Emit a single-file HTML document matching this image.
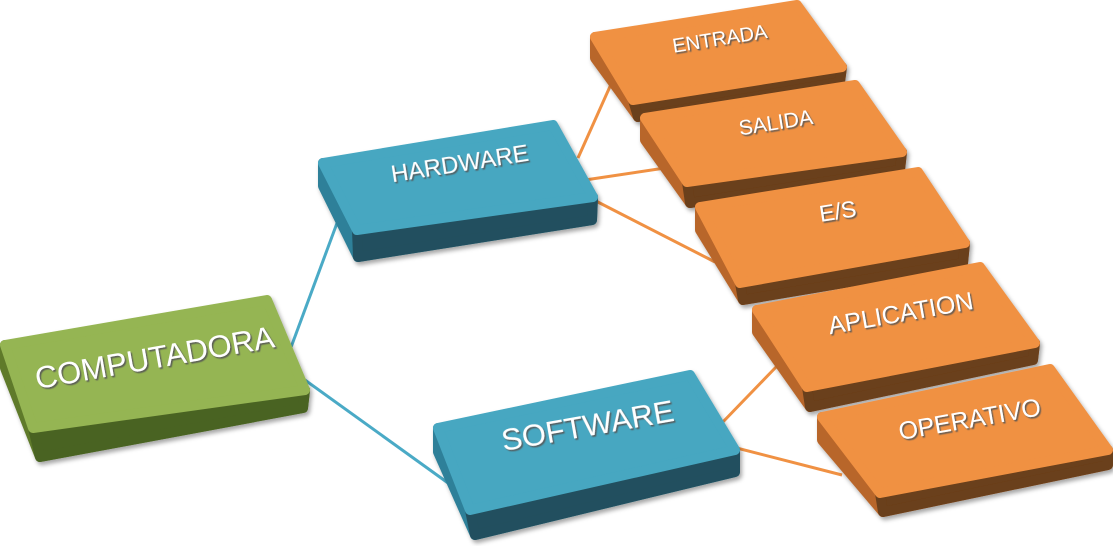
<!DOCTYPE html>
<html><head><meta charset="utf-8"><style>
html,body{margin:0;padding:0;background:#fff;}
svg{display:block}
text{font-family:"Liberation Sans",sans-serif;fill:#fff;text-anchor:middle;dominant-baseline:middle;}
</style></head><body>
<svg width="1113" height="546" viewBox="0 0 1113 546" xmlns="http://www.w3.org/2000/svg">
<defs>
<filter id="sh" x="-10%" y="-10%" width="130%" height="140%"><feDropShadow dx="2" dy="3" stdDeviation="2" flood-color="#000" flood-opacity="0.35"/></filter>
<filter id="ts"><feDropShadow dx="1.5" dy="1.5" stdDeviation="0.5" flood-color="#555" flood-opacity="0.9"/></filter>
</defs>
<g stroke="#4aaac6" stroke-width="3" fill="none">
<line x1="290" y1="350" x2="340" y2="215"/>
<line x1="298" y1="375" x2="455" y2="488"/>
</g>
<g stroke="#f09143" stroke-width="3" fill="none">
<line x1="578" y1="158" x2="612" y2="82"/>
<line x1="585" y1="180" x2="665" y2="168"/>
<line x1="590" y1="198" x2="715" y2="262"/>
<line x1="720" y1="425" x2="778" y2="365"/>
<line x1="725" y1="445" x2="842" y2="475"/>
</g>
<g stroke-linejoin="round" stroke-width="10">
<g filter="url(#sh)">
<polygon points="5,345 5,368 40,457 303,408 305,390 33,428" fill="#5e7a2c" stroke="#5e7a2c"/>
<polygon points="33,428 40,457 303,408 305,390" fill="#4a6324" stroke="#4a6324"/>
<polygon points="5,345 267,300 305,390 33,428" fill="#95b552" stroke="#95b552"/>
</g>
<g filter="url(#sh)">
<polygon points="323,163 323,186 358,257 592,220 593,197 357,230" fill="#2f8099" stroke="#2f8099"/>
<polygon points="357,230 358,257 592,220 593,197" fill="#22505e" stroke="#22505e"/>
<polygon points="323,163 553,125 593,197 357,230" fill="#46a7c1" stroke="#46a7c1"/>
</g>
<g filter="url(#sh)">
<polygon points="438,428 438,452 475,535 735,472 735,450 470,510" fill="#2f8099" stroke="#2f8099"/>
<polygon points="470,510 475,535 735,472 735,450" fill="#22505e" stroke="#22505e"/>
<polygon points="438,428 690,375 735,450 470,510" fill="#46a7c1" stroke="#46a7c1"/>
</g>
<g filter="url(#sh)">
<polygon points="595,37 595,58 638,117 840,82 842,67 633,100" fill="#b8662a" stroke="#b8662a"/>
<polygon points="633,100 638,117 840,82 842,67" fill="#6b3f1a" stroke="#6b3f1a"/>
<polygon points="595,37 797,5 842,67 633,100" fill="#f09143" stroke="#f09143"/>
</g>
<g filter="url(#sh)">
<polygon points="645,118 645,140 690,203 900,170 902,152 687,182" fill="#b8662a" stroke="#b8662a"/>
<polygon points="687,182 690,203 900,170 902,152" fill="#6b3f1a" stroke="#6b3f1a"/>
<polygon points="645,118 855,85 902,152 687,182" fill="#f09143" stroke="#f09143"/>
</g>
<g filter="url(#sh)">
<polygon points="700,207 700,230 743,300 963,263 965,243 740,283" fill="#b8662a" stroke="#b8662a"/>
<polygon points="740,283 743,300 963,263 965,243" fill="#6b3f1a" stroke="#6b3f1a"/>
<polygon points="700,207 918,172 965,243 740,283" fill="#f09143" stroke="#f09143"/>
</g>
<g filter="url(#sh)">
<polygon points="757,310 757,332 810,407 1033,360 1035,343 807,387" fill="#b8662a" stroke="#b8662a"/>
<polygon points="807,387 810,407 1033,360 1035,343" fill="#6b3f1a" stroke="#6b3f1a"/>
<polygon points="757,310 980,267 1035,343 807,387" fill="#f09143" stroke="#f09143"/>
</g>
<g filter="url(#sh)">
<polygon points="822,417 822,440 883,512 1108,465 1108,450 880,493" fill="#b8662a" stroke="#b8662a"/>
<polygon points="880,493 883,512 1108,465 1108,450" fill="#6b3f1a" stroke="#6b3f1a"/>
<polygon points="822,417 1050,369 1108,450 880,493" fill="#f09143" stroke="#f09143"/>
</g>
</g>
<g filter="url(#ts)">
<text x="155" y="360" font-size="31" transform="rotate(-10 155 360)">COMPUTADORA</text>
<text x="460" y="165" font-size="24" transform="rotate(-9 460 165)">HARDWARE</text>
<text x="588" y="428" font-size="31" transform="rotate(-10 588 428)">SOFTWARE</text>
<text x="720" y="40" font-size="20" transform="rotate(-9 720 40)">ENTRADA</text>
<text x="776" y="124" font-size="21" transform="rotate(-9 776 124)">SALIDA</text>
<text x="838" y="213" font-size="23" transform="rotate(-9 838 213)">E/S</text>
<text x="901" y="315" font-size="25" transform="rotate(-10 901 315)">APLICATION</text>
<text x="970" y="421" font-size="25" transform="rotate(-10 970 421)">OPERATIVO</text>
</g>
</svg>
</body></html>
